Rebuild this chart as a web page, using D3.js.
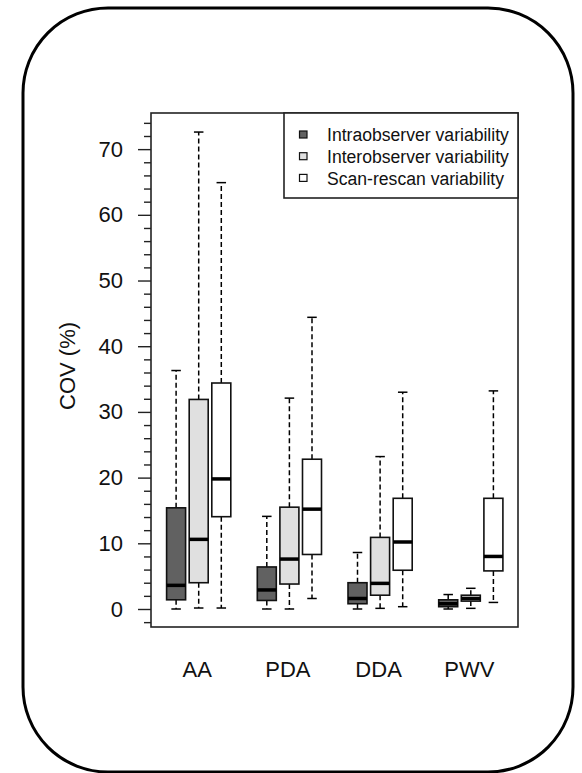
<!DOCTYPE html>
<html lang="en">
<head>
  <meta charset="UTF-8">
  <title>COV boxplot</title>
  <script src="https://d3js.org/d3.v7.min.js"></script>
  <style>
    body { margin: 0; background: #ffffff; }
    svg { display: block; font-family: 'Liberation Sans', Arial, Helvetica, sans-serif; }
    .tick text { font-size: 22px; fill: #111; }
    .tick line { stroke: #222; stroke-width: 1.4px; }
    .legend text { font-size: 17.6px; fill: #111; }
    .glabel { font-size: 22px; fill: #111; }
    .ylab { font-size: 22px; fill: #111; }
  </style>
</head>
<body>
  <svg id="chart" width="582" height="773"></svg>

  <script>
    const groups = ["AA", "PDA", "DDA", "PWV"];
    const seriesNames = ["Intraobserver variability", "Interobserver variability", "Scan-rescan variability"];

    // [lower whisker, Q1, median, Q3, upper whisker] per group
    const intraStats = [
      [0, 1.4, 3.6, 15.4, 36.3],
      [0, 1.3, 2.9, 6.4, 14.1],
      [0, 0.8, 1.6, 4.0, 8.6],
      [0, 0.35, 0.8, 1.4, 2.2]
    ];
    const interStats = [
      [0.15, 4.0, 10.6, 31.9, 72.6],
      [0, 3.8, 7.6, 15.5, 32.1],
      [0.1, 2.1, 3.9, 10.9, 23.2],
      [0.1, 1.2, 1.6, 2.1, 3.15]
    ];
    const scanStats = [
      [0.15, 14.05, 19.8, 34.4, 64.9],
      [1.6, 8.3, 15.2, 22.8, 44.4],
      [0.35, 5.9, 10.2, 16.85, 33.0],
      [1.0, 5.8, 8.0, 16.85, 33.2]
    ];
    const majorTicks = [0, 10, 20, 30, 40, 50, 60, 70];
    const minorTicks = d3.range(-2, 75, 2).filter(v => v % 10 !== 0);

    const fills = ["#616161", "#e0e0e0", "#ffffff"];
    const allStats = [intraStats, interStats, scanStats];

    const svg = d3.select("#chart");
    const plot = {left: 151, right: 518, top: 113, bottom: 627};

    // outer rounded frame
    svg.append("rect")
      .attr("x", 23).attr("y", 8)
      .attr("width", 550).attr("height", 764)
      .attr("rx", 85).attr("ry", 85)
      .attr("fill", "none").attr("stroke", "#000").attr("stroke-width", 3);

    const y = d3.scaleLinear().domain([-2.74, 75.5]).range([plot.bottom, plot.top]);
    const xg = d3.scalePoint().domain(groups).range([198.7, 470.8]);
    const xs = d3.scalePoint().domain(seriesNames).range([-22.6, 22.6]);
    const boxW = 19;

    // y axis: minor then major ticks
    svg.append("g")
      .attr("transform", `translate(${plot.left},0)`)
      .call(d3.axisLeft(y).tickValues(minorTicks).tickSize(7).tickFormat(""))
      .call(g => g.select(".domain").remove());
    svg.append("g")
      .attr("transform", `translate(${plot.left},0)`)
      .call(d3.axisLeft(y).tickValues(majorTicks).tickSize(13).tickPadding(15).tickFormat(d3.format("d")))
      .call(g => g.select(".domain").remove())
      .call(g => g.selectAll("text").attr("font-family", null).attr("font-size", null));

    svg.append("text")
      .attr("class", "ylab")
      .attr("transform", `translate(75,${y(37)}) rotate(-90)`)
      .attr("text-anchor", "middle")
      .text("COV (%)");

    // boxes
    seriesNames.forEach((s, si) => {
      const stats = allStats[si];
      groups.forEach((g, gi) => {
        const [lo, q1, med, q3, hi] = stats[gi];
        const cx = xg(g) + xs(s);
        const bg = svg.append("g");
        // whiskers
        bg.append("line").attr("x1", cx).attr("x2", cx).attr("y1", y(q3)).attr("y2", y(hi))
          .attr("stroke", "#000").attr("stroke-width", 1.5).attr("stroke-dasharray", "5,3");
        bg.append("line").attr("x1", cx).attr("x2", cx).attr("y1", y(q1)).attr("y2", y(lo))
          .attr("stroke", "#000").attr("stroke-width", 1.5).attr("stroke-dasharray", "5,3");
        [lo, hi].forEach(v => {
          bg.append("line").attr("x1", cx - boxW / 4).attr("x2", cx + boxW / 4)
            .attr("y1", y(v)).attr("y2", y(v))
            .attr("stroke", "#000").attr("stroke-width", 1.5);
        });
        bg.append("rect")
          .attr("x", cx - boxW / 2).attr("width", boxW)
          .attr("y", y(q3)).attr("height", y(q1) - y(q3))
          .attr("fill", fills[si]).attr("stroke", "#111").attr("stroke-width", 1.6);
        bg.append("line").attr("x1", cx - boxW / 2).attr("x2", cx + boxW / 2)
          .attr("y1", y(med)).attr("y2", y(med))
          .attr("stroke", "#000").attr("stroke-width", 3.5);
      });
    });

    // group labels
    svg.selectAll(".glabel").data(groups).join("text")
      .attr("class", "glabel")
      .attr("x", d => xg(d) - 1.5).attr("y", 677)
      .attr("text-anchor", "middle")
      .text(d => d);

    // plot frame
    svg.append("rect")
      .attr("x", plot.left).attr("y", plot.top)
      .attr("width", plot.right - plot.left).attr("height", plot.bottom - plot.top)
      .attr("fill", "none").attr("stroke", "#222").attr("stroke-width", 1.6);

    // legend
    const legend = svg.append("g").attr("class", "legend");
    legend.append("rect")
      .attr("x", 284).attr("y", plot.top).attr("width", plot.right - 284).attr("height", 85)
      .attr("fill", "#fff").attr("stroke", "#222").attr("stroke-width", 1.6);
    seriesNames.forEach((s, i) => {
      const yy = 135 + i * 21.7;
      legend.append("rect")
        .attr("x", 299.5).attr("y", yy - 4).attr("width", 7.5).attr("height", 7)
        .attr("fill", fills[i]).attr("stroke", "#111").attr("stroke-width", 1.2);
      legend.append("text")
        .attr("x", 327).attr("y", yy).attr("dy", "0.35em")
        .text(s);
    });
  </script>
</body>
</html>
